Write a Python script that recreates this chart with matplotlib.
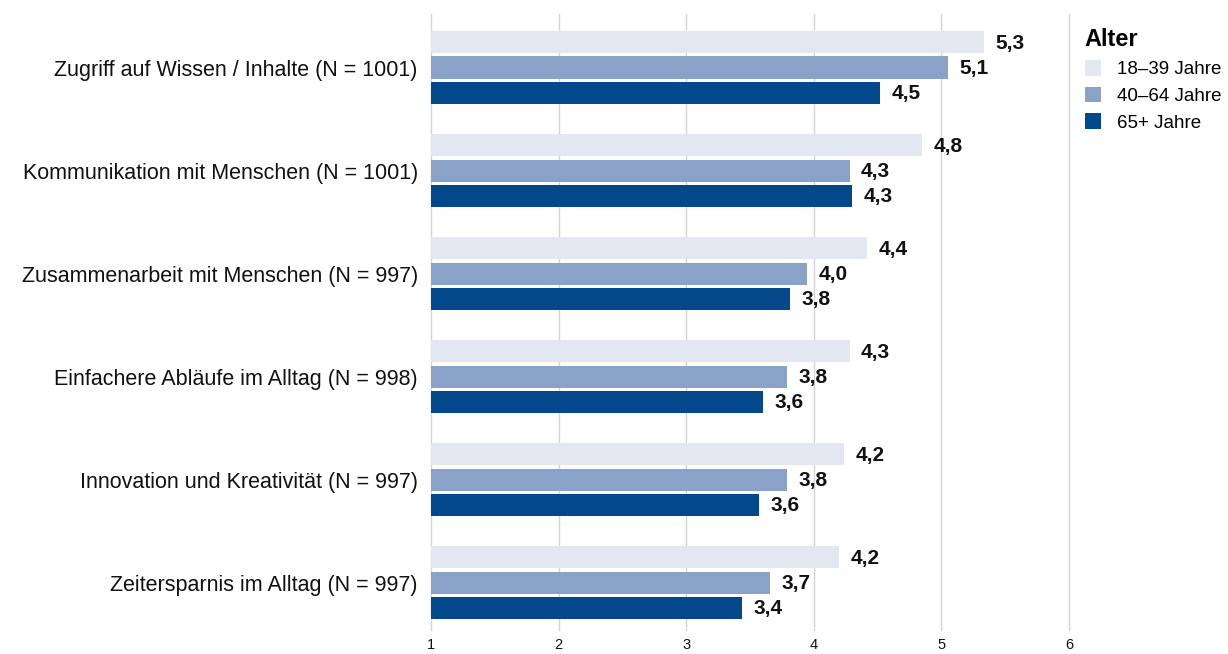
import numpy as np
import matplotlib
matplotlib.use("Agg")
import matplotlib.pyplot as plt
from matplotlib.patches import Patch

plt.rcParams['font.family'] = ['Liberation Sans', 'DejaVu Sans']

categories = [
    "Zugriff auf Wissen / Inhalte (N = 1001)",
    "Kommunikation mit Menschen (N = 1001)",
    "Zusammenarbeit mit Menschen (N = 997)",
    "Einfachere Abläufe im Alltag (N = 998)",
    "Innovation und Kreativität (N = 997)",
    "Zeitersparnis im Alltag (N = 997)",
]
series_names = ["18\u201339 Jahre", "40\u201364 Jahre", "65+ Jahre"]
vals_18_39 = [5.33, 4.85, 4.42, 4.28, 4.24, 4.20]
vals_40_64 = [5.05, 4.28, 3.95, 3.79, 3.79, 3.66]
vals_65 = [4.52, 4.30, 3.81, 3.60, 3.57, 3.44]
labels_18_39 = ["5,3", "4,8", "4,4", "4,3", "4,2", "4,2"]
labels_40_64 = ["5,1", "4,3", "4,0", "3,8", "3,8", "3,7"]
labels_65 = ["4,5", "4,3", "3,8", "3,6", "3,6", "3,4"]
xticks = [1, 2, 3, 4, 5, 6]

colors = ["#e3e7f2", "#8aa2c8", "#03488a"]

fig = plt.figure(figsize=(12.28, 6.54), dpi=100)
ax = fig.add_axes([431 / 1228, 24 / 654, 638 / 1228, 616 / 654])

y = np.arange(len(categories))
offsets = [-0.245, 0.0, 0.245]
height = 0.215
base = 1.0

for vals, labs, col, off in zip([vals_18_39, vals_40_64, vals_65],
                                [labels_18_39, labels_40_64, labels_65],
                                colors, offsets):
    widths = np.array(vals) - base
    ax.barh(y + off, widths, left=base, height=height, color=col, zorder=3)
    for yi, v, lab in zip(y + off, vals, labs):
        ax.text(v + 0.09, yi + 0.01, lab, va='center', ha='left',
                fontsize=15, fontweight='bold', color='#111111')

ax.set_xlim(1, 6)
ax.set_ylim(len(categories) - 0.54, -0.52)
ax.set_xticks(xticks)
ax.set_xticklabels([str(t) for t in xticks], fontsize=10.5)
ax.set_yticks(y)
ax.set_yticklabels(categories, fontsize=15.5)
ax.tick_params(axis='both', length=0, colors='#111111')
ax.tick_params(axis='y', pad=9.5)
ax.tick_params(axis='x', pad=6)
ax.grid(axis='x', color='#d4d4d4', linewidth=1, zorder=0)
for gl in ax.get_xgridlines():
    gl.set_clip_on(False)
for s in ax.spines.values():
    s.set_visible(False)

handles = [Patch(facecolor=c, edgecolor='none') for c in colors]
leg = fig.legend(handles, series_names, loc='upper left',
                 bbox_to_anchor=(1077 / 1228, 1 - 21 / 654),
                 frameon=False, title="Alter", fontsize=13.5,
                 handlelength=0.9, handleheight=0.9, handletextpad=0.85,
                 labelspacing=0.45, borderaxespad=0)
leg.get_title().set_fontweight('bold')
leg.get_title().set_fontsize(17)
leg._legend_box.align = "left"

fig.savefig("out.png", dpi=100)
